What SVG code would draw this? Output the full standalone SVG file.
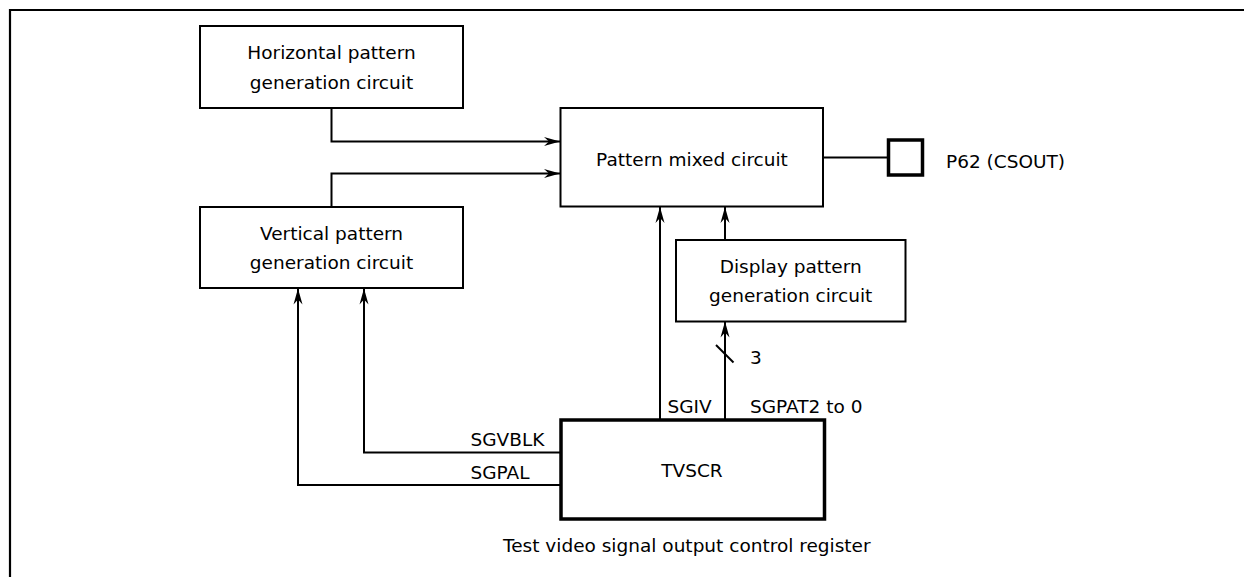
<svg xmlns="http://www.w3.org/2000/svg" width="1244" height="577" viewBox="0 0 1244 577">
<style>
  text { font-family: "DejaVu Sans", "Liberation Sans", sans-serif; font-size: 18.5px; fill: #000; }
  .c { text-anchor: middle; }
  .box { fill: #fff; stroke: #000; stroke-width: 2; }
  .thick { fill: #fff; stroke: #000; stroke-width: 3.5; }
  .wire { fill: none; stroke: #000; stroke-width: 2; }
</style>
<defs>
  <marker id="arr" markerUnits="userSpaceOnUse" markerWidth="20" markerHeight="12" viewBox="-17 -6 18 12" refX="0" refY="0" orient="auto">
    <path d="M-16,-4.5 L0,0 L-16,4.5 L-11,0 Z" fill="#000"/>
  </marker>
</defs>
<rect x="0" y="0" width="1244" height="577" fill="#fff"/>
<path d="M10,577 V10 H1244" fill="none" stroke="#000" stroke-width="2.2"/>

<g id="connectors">
  <path class="wire" d="M331.5,108 V141.5 H560" marker-end="url(#arr)"/>
  <path class="wire" d="M331.5,207 V173.5 H560" marker-end="url(#arr)"/>
  <path class="wire" d="M823,157.5 H888.5"/>
  <path class="wire" d="M660,420 V207" marker-end="url(#arr)"/>
  <path class="wire" d="M725,240 V207" marker-end="url(#arr)"/>
  <path class="wire" d="M725,420 V321.5" marker-end="url(#arr)"/>
  <path class="wire" d="M716,345 L733.5,362.5"/>
  <path class="wire" d="M561,452.5 H364 V288.5" marker-end="url(#arr)"/>
  <path class="wire" d="M561,485 H298 V288.5" marker-end="url(#arr)"/>
  <text x="470.5" y="446">SGVBLK</text>
  <text x="470.5" y="479">SGPAL</text>
  <text x="667.5" y="413">SGIV</text>
  <text x="750" y="413">SGPAT2 to 0</text>
  <text x="750" y="364">3</text>
</g>

<g id="horizontal">
  <rect class="box" x="200" y="26" width="263" height="82"/>
  <text class="c" x="331.5" y="59">Horizontal pattern</text>
  <text class="c" x="331.5" y="89">generation circuit</text>
</g>
<g id="vertical">
  <rect class="box" x="200" y="207" width="263" height="81"/>
  <text class="c" x="331.5" y="240">Vertical pattern</text>
  <text class="c" x="331.5" y="269">generation circuit</text>
</g>
<g id="mixed">
  <rect class="box" x="560.5" y="108" width="262.5" height="98.5"/>
  <text class="c" x="692" y="166">Pattern mixed circuit</text>
</g>
<g id="display">
  <rect class="box" x="676" y="240" width="229.5" height="81.5"/>
  <text class="c" x="790.7" y="273">Display pattern</text>
  <text class="c" x="790.7" y="302">generation circuit</text>
</g>
<g id="tvscr">
  <rect class="thick" x="561" y="420" width="263.5" height="99"/>
  <text class="c" x="692" y="477">TVSCR</text>
  <text x="503" y="552">Test video signal output control register</text>
</g>
<g id="p62">
  <rect class="thick" x="888.5" y="140" width="34" height="35"/>
  <text x="946" y="168">P62 (CSOUT)</text>
</g>
</svg>
